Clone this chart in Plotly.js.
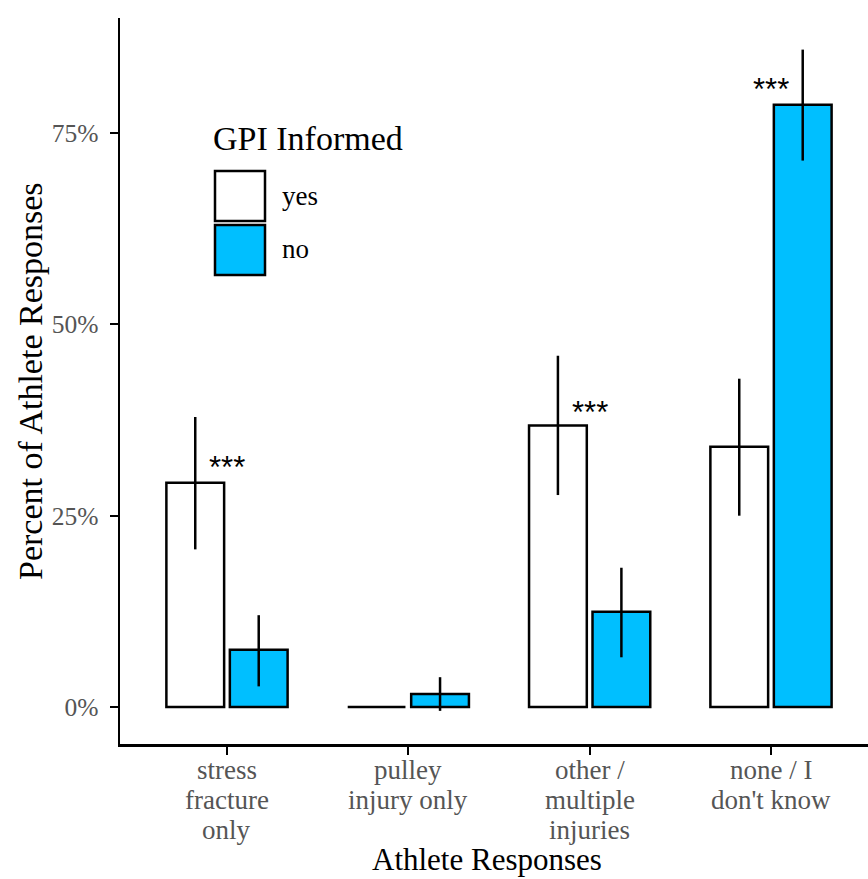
<!DOCTYPE html>
<html>
<head>
<meta charset="utf-8">
<script src="https://cdn.plot.ly/plotly-3.0.1.min.js"></script>
<style>html,body{margin:0;padding:0;background:#fff;}#chart{width:868px;height:879px;}</style>
</head>
<body>
<div id="chart"></div>
<script>
// Data
const categories = ['stress fracture only', 'pulley injury only', 'other / multiple injuries', "none / I don't know"];
const tickLines = [['stress', 'fracture', 'only'], ['pulley', 'injury only'], ['other /', 'multiple', 'injuries'], ['none / I', "don't know"]];
const yesValues = [29.3, 0, 36.8, 34.0];
const yesLower = [20.6, 0, 27.7, 25.0];
const yesUpper = [37.9, 0, 45.9, 42.9];
const noValues = [7.5, 1.7, 12.45, 78.7];
const noLower = [2.7, -0.5, 6.5, 71.4];
const noUpper = [12.0, 3.9, 18.2, 85.9];
const sigLabels = ['***', '', '***', '***'];
const sigHeights = [31.9, null, 39.2, 81.3];
const yTickVals = [0, 25, 50, 75];
const seriesNames = ['yes', 'no'];
const seriesColors = ['#ffffff', '#00bfff'];

const serif = 'Liberation Serif, Times New Roman, serif';

// pixel helpers for paper-referenced decorations
const plotL = 120, plotW = 868 - 120, plotT = 18, plotH = 744 - 18;
function px(x) { return (x - plotL) / plotW; }
function py(y) { return 1 - (y - plotT) / plotH; }

function errTrace(name, vals, lo, hi, color) {
  return {
    type: 'bar', name: name, x: categories, y: vals,
    marker: {color: color, line: {color: '#000', width: 2.5}},
    error_y: {type: 'data', symmetric: false,
      array: vals.map((v, i) => hi[i] - v),
      arrayminus: vals.map((v, i) => v - lo[i]),
      color: '#000', thickness: 2.5, width: 0},
    hoverinfo: 'skip'
  };
}

const traces = [
  errTrace(seriesNames[0], yesValues, yesLower, yesUpper, seriesColors[0]),
  errTrace(seriesNames[1], noValues, noLower, noUpper, seriesColors[1])
];

const annotations = [];
categories.forEach((c, i) => {
  if (sigLabels[i]) annotations.push({
    x: c, y: sigHeights[i], xref: 'x', yref: 'y', text: sigLabels[i], yshift: -5,
    showarrow: false, font: {family: 'Liberation Sans, Arial, sans-serif', size: 31, color: '#000'},
    xanchor: 'center', yanchor: 'middle'
  });
  // category tick labels, one line each (tighter line spacing than Plotly's default)
  tickLines[i].forEach((line, j) => annotations.push({
    x: c, xref: 'x', yref: 'paper', y: py(770 + 30 * j), text: line, showarrow: false,
    xanchor: 'center', yanchor: 'middle', font: {family: serif, size: 27, color: '#555'}
  }));
});

// axis titles
annotations.push({xref: 'paper', yref: 'paper', x: px(487), y: py(859), text: 'Athlete Responses', showarrow: false,
  xanchor: 'center', yanchor: 'middle', font: {family: serif, size: 31, color: '#000'}});
annotations.push({xref: 'paper', yref: 'paper', x: px(30), y: py(381), text: 'Percent of Athlete Responses', showarrow: false,
  textangle: -90, xanchor: 'center', yanchor: 'middle', font: {family: serif, size: 34, color: '#000'}});

// Legend (drawn manually to match boxed keys)
annotations.push({xref: 'paper', yref: 'paper', x: px(211), y: py(139), text: 'GPI Informed', showarrow: false,
  xanchor: 'left', yanchor: 'middle', font: {family: serif, size: 34, color: '#000'}});
annotations.push({xref: 'paper', yref: 'paper', x: px(280), y: py(196), text: seriesNames[0], showarrow: false,
  xanchor: 'left', yanchor: 'middle', font: {family: serif, size: 27, color: '#000'}});
annotations.push({xref: 'paper', yref: 'paper', x: px(280), y: py(249), text: seriesNames[1], showarrow: false,
  xanchor: 'left', yanchor: 'middle', font: {family: serif, size: 27, color: '#000'}});

const shapes = [
  {type: 'rect', xref: 'paper', yref: 'paper', x0: px(215), x1: px(265), y0: py(221), y1: py(171),
   fillcolor: seriesColors[0], line: {color: '#000', width: 2.5}},
  {type: 'rect', xref: 'paper', yref: 'paper', x0: px(215), x1: px(265), y0: py(275), y1: py(225),
   fillcolor: seriesColors[1], line: {color: '#000', width: 2.5}}
];

const layout = {
  width: 868, height: 879,
  margin: {l: 120, r: 0, t: 18, b: 135},
  paper_bgcolor: '#fff', plot_bgcolor: '#fff',
  barmode: 'group', bargap: 0.30, bargroupgap: 0.09,
  showlegend: false,
  font: {family: serif},
  xaxis: {
    type: 'category', range: [-0.59, 3.535],
    showline: true, linecolor: '#000', linewidth: 2.5,
    ticks: 'outside', ticklen: 8, tickwidth: 2, tickcolor: '#000',
    showticklabels: false,
    showgrid: false, zeroline: false
  },
  yaxis: {
    range: [-4.83, 90.03],
    tickvals: yTickVals, ticktext: yTickVals.map(v => v + '%'),
    showline: true, linecolor: '#000', linewidth: 2.5,
    ticks: 'outside', ticklen: 8, tickwidth: 2, tickcolor: '#000',
    ticklabelstandoff: 6,
    tickfont: {family: serif, size: 25.5, color: '#555'},
    showgrid: false, zeroline: false
  },
  annotations: annotations,
  shapes: shapes
};

Plotly.newPlot('chart', traces, layout, {displayModeBar: false, staticPlot: true});
</script>
</body>
</html>
